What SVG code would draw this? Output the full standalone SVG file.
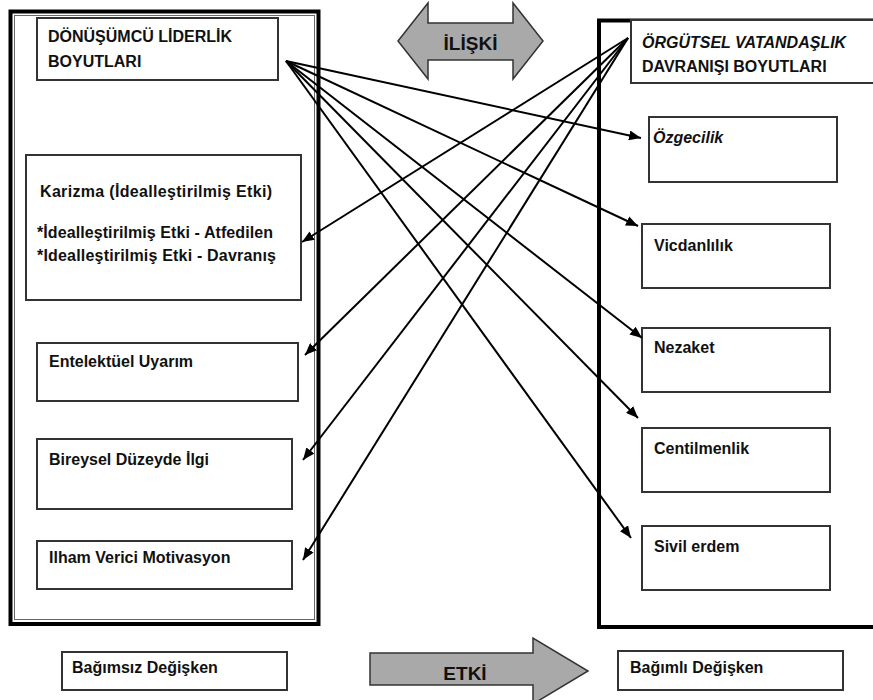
<svg xmlns="http://www.w3.org/2000/svg" width="873" height="700" viewBox="0 0 873 700">
<defs>
<style>
.box{fill:#fff;stroke:#333;stroke-width:2}
.t{font-family:"Liberation Sans",Arial,sans-serif;font-weight:bold;font-size:16px;fill:#111}
.ti{font-style:italic}
.big{font-size:19px}
.con{stroke:#000;stroke-width:2;fill:none;marker-end:url(#ah)}
.blk{fill:#a9a9a9;stroke:#333;stroke-width:1.5}
</style>
<marker id="ah" markerUnits="userSpaceOnUse" markerWidth="12" markerHeight="10" viewBox="0 0 12 10" refX="12" refY="5" orient="auto">
<path d="M0,0 L12,5 L0,10 Z" fill="#000"/>
</marker>
</defs>
<rect width="873" height="700" fill="#fff"/>

<g id="left-frame">
<rect x="10.5" y="11.5" width="308" height="612.5" fill="none" stroke="#000" stroke-width="4"/>
<rect x="14.5" y="15.5" width="300" height="604" fill="none" stroke="#666" stroke-width="1"/>
</g>
<g id="right-frame">
<rect x="599" y="20.5" width="300" height="606.5" fill="none" stroke="#000" stroke-width="4"/>
</g>

<g id="iliski">
<polygon class="blk" points="398,41 428,3 428,23 513,23 513,3 543,41 513,79 513,60 428,60 428,79"/>
<text class="t big" x="470.5" y="50" text-anchor="middle">İLİŞKİ</text>
</g>

<g id="left-header">
<rect class="box" x="37" y="18" width="241" height="62"/>
<text class="t" x="48" y="42">DÖNÜŞÜMCÜ LİDERLİK</text>
<text class="t" x="48" y="67">BOYUTLARI</text>
</g>

<g id="karizma">
<rect class="box" x="26" y="155" width="275" height="145"/>
<text class="t" x="40" y="197" textLength="232" lengthAdjust="spacing">Karizma (İdealleştirilmiş Etki)</text>
<text class="t" x="37" y="238" textLength="236" lengthAdjust="spacing">*İdealleştirilmiş Etki - Atfedilen</text>
<text class="t" x="37" y="261" textLength="239" lengthAdjust="spacing">*Idealleştirilmiş Etki - Davranış</text>
</g>

<g id="entelektuel">
<rect class="box" x="37" y="343" width="261" height="58"/>
<text class="t" x="49" y="367">Entelektüel Uyarım</text>
</g>

<g id="bireysel">
<rect class="box" x="37" y="439" width="255" height="70"/>
<text class="t" x="49" y="465">Bireysel Düzeyde İlgi</text>
</g>

<g id="ilham">
<rect class="box" x="37" y="541" width="255" height="48"/>
<text class="t" x="49" y="563">Ilham Verici Motivasyon</text>
</g>

<g id="right-header">
<rect class="box" x="631" y="20" width="245" height="63"/>
<text class="t ti" x="642" y="48">ÖRGÜTSEL VATANDAŞLIK</text>
<text class="t" x="642" y="72">DAVRANIŞI BOYUTLARI</text>
</g>

<g id="ozgecilik">
<rect class="box" x="649" y="117" width="188" height="65"/>
<text class="t ti" x="653" y="143">Özgecilik</text>
</g>

<g id="vicdanlilik">
<rect class="box" x="642" y="224" width="188" height="64"/>
<text class="t" x="654" y="251">Vicdanlılık</text>
</g>

<g id="nezaket">
<rect class="box" x="642" y="328" width="188" height="64"/>
<text class="t" x="654" y="353">Nezaket</text>
</g>

<g id="centilmenlik">
<rect class="box" x="642" y="428" width="188" height="64"/>
<text class="t" x="654" y="454">Centilmenlik</text>
</g>

<g id="sivil-erdem">
<rect class="box" x="642" y="526" width="188" height="64"/>
<text class="t" x="654" y="552">Sivil erdem</text>
</g>

<g id="connectors">
<line class="con" x1="286" y1="61" x2="641" y2="138"/>
<line class="con" x1="286" y1="61" x2="638" y2="226"/>
<line class="con" x1="286" y1="61" x2="642" y2="338"/>
<line class="con" x1="286" y1="61" x2="638" y2="418"/>
<line class="con" x1="286" y1="61" x2="631" y2="538"/>
<line class="con" x1="628" y1="38" x2="302" y2="242"/>
<line class="con" x1="628" y1="38" x2="305" y2="355"/>
<line class="con" x1="628" y1="38" x2="303" y2="460"/>
<line class="con" x1="628" y1="38" x2="303" y2="560"/>
</g>

<g id="bagimsiz">
<rect class="box" x="62" y="652" width="225" height="38"/>
<text class="t" x="72" y="673">Bağımsız Değişken</text>
</g>

<g id="etki">
<polygon class="blk" points="370,653 533,653 533,638 588,671 533,704 533,685 370,685"/>
<text class="t big" x="465" y="680" text-anchor="middle">ETKİ</text>
</g>

<g id="bagimli">
<rect class="box" x="618" y="651" width="225" height="39"/>
<text class="t" x="630" y="673">Bağımlı Değişken</text>
</g>
</svg>
